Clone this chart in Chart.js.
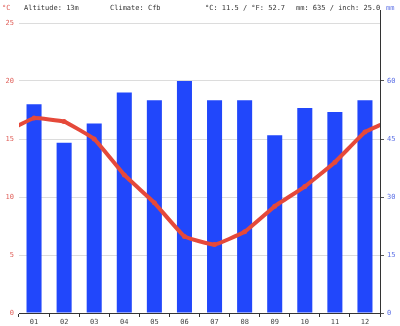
<!DOCTYPE html>
<html>
<head>
<meta charset="utf-8">
<script src="https://cdn.jsdelivr.net/npm/chart.js@4/dist/chart.umd.min.js"></script>
<style>
  html, body { margin: 0; padding: 0; background: #fff; }
  #wrap { width: 400px; height: 326px; position: relative; }
</style>
</head>
<body>
<div id="wrap"><canvas id="c" width="400" height="326"></canvas></div>
<script>
// Monthly climate data
const months = ['01','02','03','04','05','06','07','08','09','10','11','12'];
const precipitationMm = [54, 44, 49, 57, 55, 60, 55, 55, 46, 53, 52, 55];
const temperatureC = [16.8, 16.5, 15.0, 11.9, 9.5, 6.6, 5.9, 7.0, 9.2, 10.9, 13.0, 15.6];
// temperature at the left and right edges of the plot (year wrap-around)
const edgeTemperatureC = [16.2, 16.2];
const tempTicks = [0, 5, 10, 15, 20, 25];
const precipTicks = [0, 15, 30, 45, 60];
const headerItems = [
  { text: 'Altitude: 13m', x: 24 },
  { text: 'Climate: Cfb', x: 110 },
  { text: '°C: 11.5 / °F: 52.7', x: 205 },
  { text: 'mm: 635 / inch: 25.0', x: 296 }
];

const RED = '#e5493a';
const RED_TEXT = '#e0605a';
const BLUE = '#2147fb';
const BLUE_TEXT = '#5b6fe6';
const MONO = '"DejaVu Sans Mono", "Liberation Mono", monospace';

const linePoints = [{ x: 0, y: edgeTemperatureC[0] }]
  .concat(temperatureC.map((t, i) => ({ x: i + 0.5, y: t })))
  .concat([{ x: 12, y: edgeTemperatureC[1] }]);

const header = {
  id: 'header',
  afterDraw(chart) {
    const ctx = chart.ctx;
    const area = chart.chartArea;
    ctx.save();
    ctx.font = '7px ' + MONO;
    ctx.textBaseline = 'middle';
    ctx.fillStyle = RED_TEXT;
    ctx.fillText('°C', 2, 8);
    ctx.fillStyle = '#333';
    headerItems.forEach(h => ctx.fillText(h.text, h.x, 8));
    ctx.fillStyle = BLUE_TEXT;
    ctx.fillText('mm', 386, 8);
    // extend the right axis line above the plot
    ctx.strokeStyle = '#333';
    ctx.lineWidth = 1;
    ctx.beginPath();
    ctx.moveTo(Math.round(area.right) + 0.5, 10);
    ctx.lineTo(Math.round(area.right) + 0.5, area.top);
    ctx.stroke();
    ctx.restore();
  }
};

new Chart(document.getElementById('c'), {
  data: {
    labels: months,
    datasets: [
      {
        type: 'line',
        data: linePoints,
        xAxisID: 'x2',
        yAxisID: 'y',
        borderColor: RED,
        backgroundColor: RED,
        borderWidth: 4,
        borderJoinStyle: 'round',
        borderCapStyle: 'round',
        tension: 0.1,
        pointRadius: (c) => (c.dataIndex === 0 || c.dataIndex === linePoints.length - 1) ? 0 : 2.5,
        pointBackgroundColor: RED,
        pointBorderWidth: 0,
        order: 0
      },
      {
        type: 'bar',
        data: precipitationMm,
        xAxisID: 'x',
        yAxisID: 'y1',
        backgroundColor: BLUE,
        grouped: false,
        barPercentage: 0.5,
        categoryPercentage: 1.0,
        order: 1
      }
    ]
  },
  options: {
    responsive: false,
    animation: false,
    layout: { padding: { top: 23, left: 0, right: 0, bottom: 0 } },
    plugins: { legend: { display: false }, tooltip: { enabled: false } },
    scales: {
      x: {
        type: 'category',
        offset: true,
        grid: { offset: true, drawOnChartArea: false, tickLength: 4, color: '#333' },
        border: { color: '#333' },
        ticks: { color: '#444', font: { family: MONO, size: 7 }, padding: 1, maxRotation: 0 },
        afterFit(s) { s.height = 13; }
      },
      x2: {
        type: 'linear',
        display: false,
        min: 0,
        max: 12
      },
      y: {
        position: 'left',
        min: 0,
        max: 25,
        afterBuildTicks(s) { s.ticks = tempTicks.map(v => ({ value: v })); },
        grid: { color: '#dcdcdc', drawTicks: false },
        border: { display: false },
        ticks: { color: RED_TEXT, font: { family: MONO, size: 7 }, padding: 5 },
        afterFit(s) { s.width = 19; }
      },
      y1: {
        position: 'right',
        min: 0,
        max: 75,
        afterBuildTicks(s) { s.ticks = precipTicks.map(v => ({ value: v })); },
        grid: { drawOnChartArea: false, tickLength: 4, color: '#555' },
        border: { color: '#333' },
        ticks: { color: BLUE_TEXT, font: { family: MONO, size: 7 }, padding: 3 },
        afterFit(s) { s.width = 20; }
      }
    }
  },
  plugins: [header]
});
</script>
</body>
</html>
